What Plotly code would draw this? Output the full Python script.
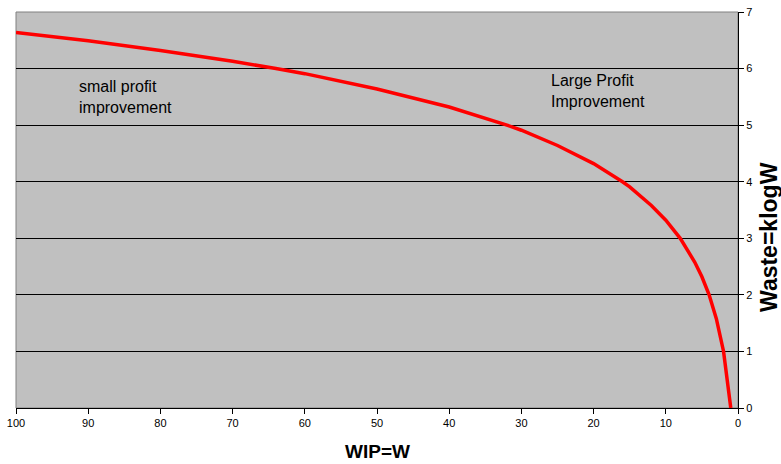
import plotly.graph_objects as go

wip = [100, 90, 80, 70, 64, 60, 50, 40, 32, 30, 25, 20, 16, 15, 12, 10, 8, 6, 5, 4, 3, 2, 1]
waste = [6.64, 6.49, 6.32, 6.13, 6.0, 5.91, 5.64, 5.32, 5.0, 4.91, 4.64, 4.32, 4.0, 3.91, 3.58,
         3.32, 3.0, 2.58, 2.32, 2.0, 1.58, 1.0, 0.0]
x_ticks = [100, 90, 80, 70, 60, 50, 40, 30, 20, 10, 0]
y_ticks = [0, 1, 2, 3, 4, 5, 6, 7]

fig = go.Figure()
fig.add_trace(go.Scatter(x=wip, y=waste, mode="lines",
                         line=dict(color="#FF0000", width=3.5), showlegend=False,
                         hoverinfo="skip"))

fig.add_annotation(x=91.6, y=5.49, text="small profit<br>improvement", showarrow=False,
                   xanchor="left", align="left", font=dict(size=16, color="#000"))
fig.add_annotation(x=26.2, y=5.6, text="Large Profit<br>Improvement", showarrow=False,
                   xanchor="left", align="left", font=dict(size=16, color="#000"))
fig.add_annotation(xref="paper", yref="paper", x=0.501, y=-0.11, text="<b>WIP=W</b>",
                   showarrow=False, xanchor="center", yanchor="middle",
                   font=dict(size=19, color="#000"))
fig.add_annotation(xref="paper", yref="paper", x=1.043, y=0.432, text="<b>Waste=klogW</b>",
                   showarrow=False, xanchor="center", yanchor="middle", textangle=-90,
                   font=dict(size=23, color="#000"))

fig.update_layout(
    width=781, height=464,
    margin=dict(l=16, r=43, t=12, b=56, autoexpand=False),
    paper_bgcolor="white", plot_bgcolor="#C0C0C0",
    font=dict(family="Liberation Sans, Arial, sans-serif", color="#000"),
    shapes=[dict(type="rect", xref="paper", yref="paper", x0=0, x1=1, y0=0, y1=1,
                 line=dict(color="#808080", width=1), fillcolor="rgba(0,0,0,0)", layer="below")],
)
fig.update_xaxes(range=[100, 0], tickvals=x_ticks, showgrid=False, zeroline=False,
                 showline=True, linecolor="#000", linewidth=1, ticks="outside", ticklen=5,
                 tickcolor="#000", tickfont=dict(size=11), automargin=False)
fig.update_yaxes(range=[0, 7], tickvals=y_ticks, side="right", showgrid=True, gridcolor="#000",
                 gridwidth=1, zeroline=False, showline=True, linecolor="#000", linewidth=1,
                 ticks="outside", ticklen=5, tickcolor="#000", tickfont=dict(size=11),
                 automargin=False)

fig.write_html("out.html", config={"displayModeBar": False, "staticPlot": True},
               post_script="document.body.style.margin='0';document.body.style.overflow='hidden';")
